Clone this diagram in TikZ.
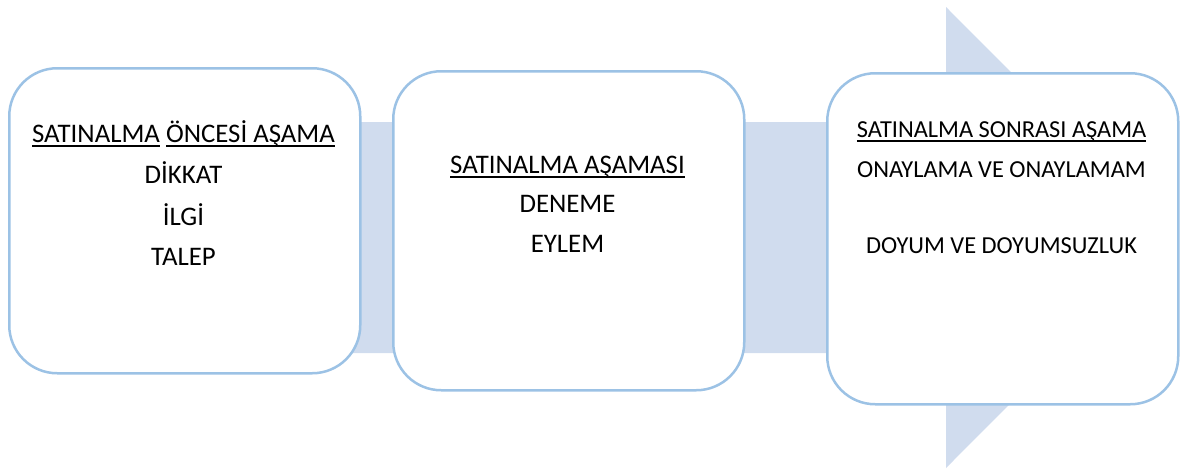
\documentclass[tikz,border=0pt]{standalone}
\usepackage{fontspec}
\setmainfont{Carlito}
\definecolor{bandcol}{RGB}{208,220,238}
\definecolor{edgecol}{RGB}{156,194,229}
\newsavebox{\myulbox}
\newcommand{\myul}[1]{\sbox{\myulbox}{#1}\rlap{\rule[-4.5pt]{\wd\myulbox}{1.5pt}}\usebox{\myulbox}}
\begin{document}
\begin{tikzpicture}[x=1pt,y=-1pt,
  stagebox/.style={draw=edgecol, line width=2.5pt, fill=white, rounded corners=48pt, minimum width=351pt, anchor=north west, inner sep=0pt},
  lblA/.style={anchor=base, inner sep=0pt, font=\fontsize{26.8}{31}\selectfont},
  lblB/.style={anchor=base, inner sep=0pt, font=\fontsize{24.4}{28}\selectfont}]
\useasboundingbox (0,0) rectangle (1192,469);
% background arrow
\fill[bandcol] (150,122) -- (946,122) -- (946,7) -- (1176,237.5) -- (946,468) -- (946,353) -- (150,353) -- cycle;
% boxes
\node[stagebox, minimum height=305pt] (b1) at (8,67) {};
\node[stagebox, minimum height=319pt] (b2) at (392,70) {};
\node[stagebox, minimum height=331pt] (b3) at (826,72) {};
% box 1 text
\node[lblA] (t11) at (183.5,142) {\myul{SATINALMA} \myul{ÖNCESİ AŞAMA}};
\node[lblA] (t12) at (183.5,183) {DİKKAT};
\node[lblA] (t13) at (183.5,225) {{İ}LG{İ}};
\node[lblA] (t14) at (183.5,265) {TALEP};
% box 2 text
\node[lblA] (t21) at (567.5,173) {\myul{SATINALMA AŞAMASI}};
\node[lblA] (t22) at (567.5,212) {DENEME};
\node[lblA] (t23) at (567.5,252) {EYLEM};
% box 3 text
\node[lblB] (t31) at (1001.5,137) {\myul{SATINALMA SONRASI AŞAMA}};
\node[lblB] (t32) at (1001.5,177) {ONAYLAMA VE ONAYLAMAM};
\node[lblB] (t33) at (1001.5,253) {DOYUM VE DOYUMSUZLUK};
\end{tikzpicture}
\end{document}
